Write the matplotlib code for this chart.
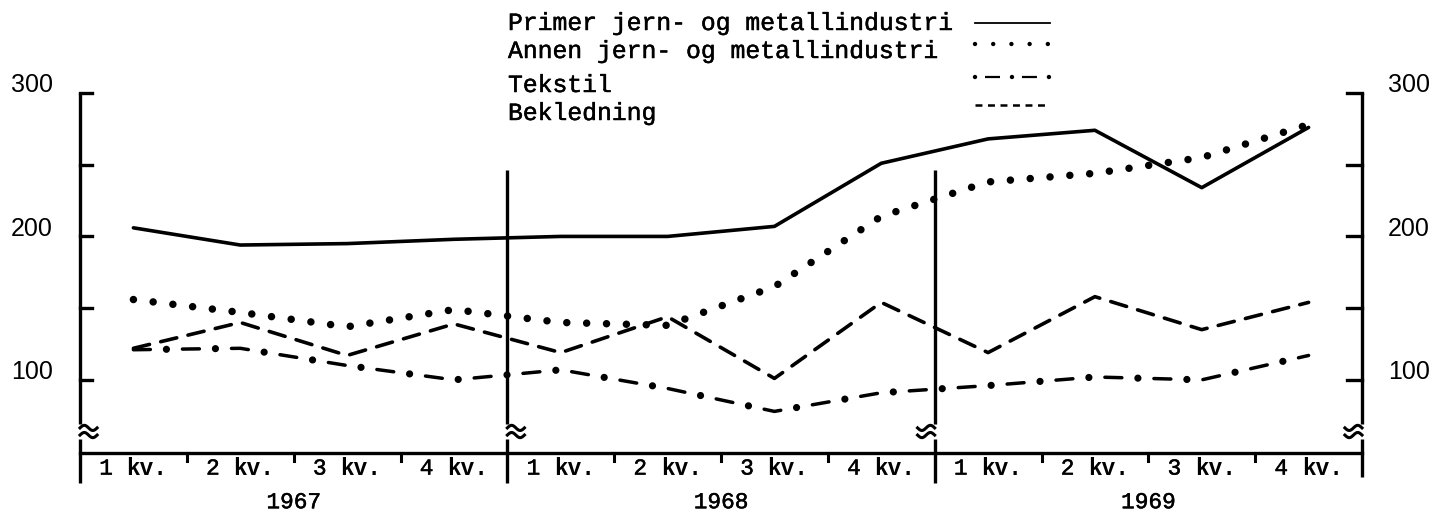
import numpy as np
import matplotlib; matplotlib.use("Agg"); import matplotlib.pyplot as plt
from matplotlib.lines import Line2D
import matplotlib.patheffects as pe

plt.rcParams["lines.scale_dashes"] = False   # dash patterns in points

# ---------- data (index) ----------
years    = ["1967", "1968", "1969"]
quarters = ["1", "2", "3", "4"]
primer   = [206, 194, 195, 198, 200, 200, 207, 251, 268, 274, 234, 276]
annen    = [156, 147, 137, 149, 140, 138, 165, 214, 238, 244, 255, 278]
tekstil  = [121, 122, 110, 100, 107, 94, 78, 91, 96, 102, 100, 117]
bekled   = [122, 140, 117, 139, 119, 144, 101, 154, 119, 158, 135, 154]
names    = ["Primer jern- og metallindustri", "Annen jern- og metallindustri",
            "Tekstil", "Bekledning"]
yticks_major = [100, 200, 300]
yticks_minor = [150, 250]

MONO = "Liberation Mono"; SANS = "Liberation Sans"; K = "black"
INK = [pe.withStroke(linewidth=0.35, foreground=K)]   # typewriter ink weight
W, H = 1434, 513
fig = plt.figure(figsize=(W/100, H/100), dpi=100)
ax = fig.add_axes([80/W, 60/H, 1282/W, 360/H])
ax.set_xlim(0, 12); ax.set_ylim(49, 300); ax.axis("off")

n = len(years)*len(quarters)
xq = np.arange(n) + 0.5

# ---------- series ----------
ax.plot(xq, primer, color=K, lw=2.6, solid_capstyle="round", solid_joinstyle="round")
ax.plot(xq, annen, color=K, lw=5.4, ls=(0, (0.01, 14.3)), dash_capstyle="round")
ax.plot(xq, bekled, color=K, lw=2.6, ls=(0, (11.9, 8.3)), dash_capstyle="round")
ax.plot(xq, tekstil, color=K, lw=2.5, ls=(0, (12.2, 23.1)), dash_capstyle="round")
ax.plot(xq, tekstil, color=K, lw=5.2, ls=(11.55, (0.01, 35.29)), dash_capstyle="round")

# ---------- axes frame with breaks ----------
def vline(x, top, bottom, curl):
    # vertical line broken between 59 and 69 with two small squiggles
    ax.plot([x, x], [top, 69], color=K, lw=2.4, clip_on=False, solid_capstyle="butt")
    ax.plot([x, x], [59, bottom], color=K, lw=2.4, clip_on=False, solid_capstyle="butt")
    t = np.linspace(0, 1, 30)
    for yc in (66.5, 61.5):
        ax.plot(x + curl*t, yc + 1.8*np.sin(2*np.pi*t), color=K, lw=2.2, clip_on=False)

vline(0, 300, 28, 0.16)
vline(4, 246, 28, 0.16)
vline(8, 246, 28, -0.16)
vline(12, 300, 32, -0.16)
ax.plot([0, 12], [49, 49], color=K, lw=2.4, clip_on=False)

for v in yticks_major + yticks_minor:
    ax.plot([0, 0.11], [v, v], color=K, lw=2.4, clip_on=False)
    ax.plot([12, 11.86], [v, v], color=K, lw=2.4, clip_on=False)
for v in yticks_major:
    ax.annotate(str(v), (0, v), xytext=(-19.5, 5.5), textcoords="offset points",
                ha="right", va="center", family=SANS, fontsize=18, annotation_clip=False)
    ax.annotate(str(v), (12, v), xytext=(18.5, 5.5), textcoords="offset points",
                ha="left", va="center", family=SANS, fontsize=18, annotation_clip=False)

# quarter ticks and labels
fs = 16.4
cw = 0.6*fs
for i in range(n):
    if i % 4:
        ax.plot([i, i], [49, 43.5], color=K, lw=2.2, clip_on=False)
    q = quarters[i % 4]
    ax.annotate(q, (xq[i], 38.5), xytext=(-2.5*cw, 0), textcoords="offset points",
                ha="left", va="center", family=MONO, fontsize=fs, annotation_clip=False,
                path_effects=INK)
    ax.annotate("kv.", (xq[i], 38.5), xytext=(-0.5*cw, 0), textcoords="offset points",
                ha="left", va="center", family=MONO, fontsize=fs, fontweight="bold",
                annotation_clip=False)
for j, yr in enumerate(years):
    ax.text(4*j + 2, 15, yr, ha="center", va="center", family=MONO, fontsize=fs,
            path_effects=INK)

# ---------- legend (figure pixels) ----------
text_y = [23, 51, 85, 113]
samp_y = [23, 44, 77, 105]
for nm, ty in zip(names, text_y):
    fig.text(508/W, 1 - ty/H, nm, ha="left", va="center", family=MONO, fontsize=17.8,
             path_effects=INK)
x0, x1 = 975/W, 1050/W
def samp(y, **kw):
    fig.add_artist(Line2D([x0, x1], [1 - y/H]*2, transform=fig.transFigure, color=K, **kw))
samp(samp_y[0], lw=1.3)
samp(samp_y[1], lw=3.2, ls=(0, (0.01, 13.1)), dash_capstyle="round")
samp(samp_y[2], lw=1.6, ls=(19.4, (10.8, 15.8)), dash_capstyle="butt")
samp(samp_y[2], lw=3.2, ls=(0, (0.01, 26.6)), dash_capstyle="round")
samp(samp_y[3], lw=1.8, ls=(0, (5, 4)), dash_capstyle="butt")

fig.savefig("out.png", dpi=100)
